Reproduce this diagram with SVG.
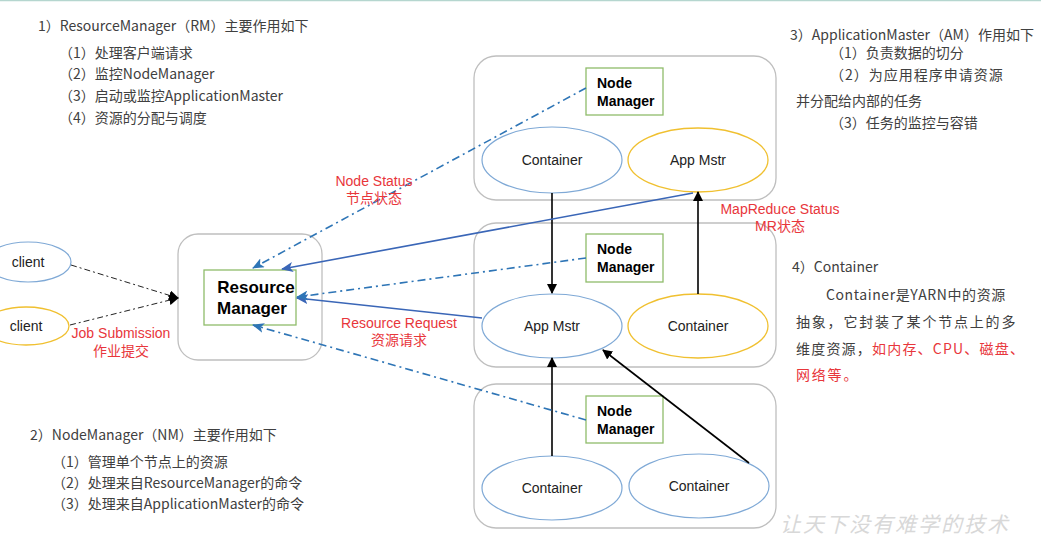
<svg xmlns="http://www.w3.org/2000/svg" width="1041" height="559" viewBox="0 0 1041 559">
<defs>
<style>
.txt{font-family:"Noto Sans CJK SC","Noto Sans",sans-serif;font-size:14px;fill:#404040}
.red{fill:#e8363b}
.lbl{font-family:"Liberation Sans","Noto Sans CJK SC",sans-serif;font-size:14px;fill:#e8363b}
.node{font-family:"Liberation Sans",Arial,sans-serif;font-size:14px;fill:#222}
.bold{font-family:"Liberation Sans",Arial,sans-serif;font-weight:bold;fill:#000}
.outer{fill:#fff;stroke:#bfbfbf;stroke-width:1.3}
.nm{fill:#fff;stroke:#8fbc6a;stroke-width:1.3}
.eb{fill:#fff;stroke:#7fa9d6;stroke-width:1.2}
.ey{fill:#fff;stroke:#f0c030;stroke-width:1.3}
.blk{stroke:#000;stroke-width:1.6;fill:none}
.bs{stroke:#3a66b7;stroke-width:1.6;fill:none}
.bd{stroke:#2e75b6;stroke-width:1.6;fill:none;stroke-dasharray:8 4 2 4}
.kd{stroke:#222;stroke-width:1;fill:none;stroke-dasharray:6 3 2 3}
</style>
<marker id="ak" markerWidth="10" markerHeight="10" refX="9" refY="5" orient="auto" markerUnits="userSpaceOnUse"><path d="M0,0 L10,5 L0,10 z" fill="#000"/></marker>
<marker id="ab" markerWidth="12" markerHeight="10" refX="11" refY="5" orient="auto" markerUnits="userSpaceOnUse"><path d="M0,0 L12,5 L0,10 L3,5 z" fill="#3a66b7"/></marker>
<marker id="ad" markerWidth="12" markerHeight="10" refX="11" refY="5" orient="auto" markerUnits="userSpaceOnUse"><path d="M0,0 L12,5 L0,10 L3,5 z" fill="#2e75b6"/></marker>
</defs>
<rect width="1041" height="559" fill="#fff"/>
<line x1="0" y1="0.5" x2="1041" y2="0.5" stroke="#b5d6cf" stroke-width="1.5"/>

<g id="text-rm">
<text class="txt" x="38" y="31">1）ResourceManager（RM）主要作用如下</text>
<text class="txt" x="59" y="58">（1）处理客户端请求</text>
<text class="txt" x="59" y="79">（2）监控NodeManager</text>
<text class="txt" x="59" y="101">（3）启动或监控ApplicationMaster</text>
<text class="txt" x="59" y="123">（4）资源的分配与调度</text>
</g>
<g id="text-am">
<text class="txt" x="790" y="40">3）ApplicationMaster（AM）作用如下</text>
<text class="txt" x="830" y="58">（1）负责数据的切分</text>
<text class="txt" x="830" y="80" style="letter-spacing:1px">（2）为应用程序申请资源</text>
<text class="txt" x="796" y="106">并分配给内部的任务</text>
<text class="txt" x="830" y="128">（3）任务的监控与容错</text>
</g>
<g id="text-container">
<text class="txt" x="792" y="272">4）Container</text>
<text class="txt" x="826" y="300" style="letter-spacing:0.6px">Container是YARN中的资源</text>
<text class="txt" x="796" y="327" style="letter-spacing:1.8px">抽象，它封装了某个节点上的多</text>
<text class="txt" x="796" y="354" style="letter-spacing:1.2px">维度资源，<tspan class="red">如内存、CPU、磁盘、</tspan></text>
<text class="txt red" x="796" y="380" style="letter-spacing:1.8px">网络等。</text>
</g>
<g id="text-nm">
<text class="txt" x="30" y="440">2）NodeManager（NM）主要作用如下</text>
<text class="txt" x="52" y="467">（1）管理单个节点上的资源</text>
<text class="txt" x="52" y="488">（2）处理来自ResourceManager的命令</text>
<text class="txt" x="52" y="509">（3）处理来自ApplicationMaster的命令</text>
</g>
<g id="watermark">
<text x="780" y="532" style="font-family:'Noto Sans CJK SC',sans-serif;font-size:21px;fill:#d8d8d8;font-style:italic;letter-spacing:2px">让天下没有难学的技术</text>
</g>

<g id="client1"><ellipse class="eb" cx="28" cy="262" rx="43" ry="20"/><text class="node" x="28" y="267" text-anchor="middle">client</text></g>
<g id="client2"><ellipse class="ey" cx="26" cy="326" rx="43" ry="19"/><text class="node" x="26" y="331" text-anchor="middle">client</text></g>

<g id="resource-manager">
<rect class="outer" x="178" y="234" width="144" height="126" rx="20"/>
<rect class="nm" x="204" y="270" width="92" height="55"/>
<text class="bold" x="256" y="293" font-size="17" text-anchor="middle">Resource</text>
<text class="bold" x="252" y="314" font-size="17" text-anchor="middle">Manager</text>
</g>

<g id="node1">
<rect class="outer" x="474" y="56" width="302" height="144" rx="22"/>
<rect class="nm" x="586" y="68" width="77" height="47"/>
<text class="bold" x="597" y="88" font-size="14">Node</text>
<text class="bold" x="597" y="106" font-size="14">Manager</text>
<ellipse class="eb" cx="552" cy="160" rx="70" ry="33"/>
<text class="node" x="552" y="165" text-anchor="middle">Container</text>
<ellipse class="ey" cx="698" cy="160" rx="70" ry="32"/>
<text class="node" x="698" y="165" text-anchor="middle">App Mstr</text>
</g>

<g id="node2">
<rect class="outer" x="474" y="223" width="302" height="144" rx="22"/>
<rect class="nm" x="586" y="234" width="77" height="48"/>
<text class="bold" x="597" y="254" font-size="14">Node</text>
<text class="bold" x="597" y="272" font-size="14">Manager</text>
<ellipse class="eb" cx="552" cy="326" rx="70" ry="32"/>
<text class="node" x="552" y="331" text-anchor="middle">App Mstr</text>
<ellipse class="ey" cx="698" cy="326" rx="70" ry="32"/>
<text class="node" x="698" y="331" text-anchor="middle">Container</text>
</g>

<g id="node3">
<rect class="outer" x="474" y="384" width="302" height="144" rx="22"/>
<rect class="nm" x="586" y="396" width="77" height="47"/>
<text class="bold" x="597" y="416" font-size="14">Node</text>
<text class="bold" x="597" y="434" font-size="14">Manager</text>
<ellipse class="eb" cx="552" cy="488" rx="70" ry="32"/>
<text class="node" x="552" y="493" text-anchor="middle">Container</text>
<ellipse class="eb" cx="699" cy="486" rx="70" ry="32"/>
<text class="node" x="699" y="491" text-anchor="middle">Container</text>
</g>

<g id="connectors">
<line class="kd" x1="71" y1="265" x2="178" y2="298" marker-end="url(#ak)"/>
<line class="kd" x1="70" y1="325" x2="178" y2="298" marker-end="url(#ak)"/>
<line class="blk" x1="552" y1="193" x2="552" y2="293" marker-end="url(#ak)"/>
<line class="blk" x1="698" y1="294" x2="698" y2="192" marker-end="url(#ak)"/>
<line class="blk" x1="552" y1="456" x2="552" y2="358" marker-end="url(#ak)"/>
<line class="blk" x1="749" y1="463" x2="603" y2="350" marker-end="url(#ak)"/>
<line class="bs" x1="693" y1="193" x2="282" y2="269" marker-end="url(#ab)"/>
<line class="bs" x1="482" y1="318" x2="297" y2="298" marker-end="url(#ab)"/>
<line class="bd" x1="586" y1="88" x2="253" y2="268" marker-end="url(#ad)"/>
<line class="bd" x1="586" y1="258" x2="297" y2="297" marker-end="url(#ad)"/>
<line class="bd" x1="586" y1="420" x2="253" y2="325" marker-end="url(#ad)"/>
</g>

<g id="labels">
<text class="lbl" x="374" y="186" text-anchor="middle">Node Status</text>
<text class="lbl" x="374" y="203" text-anchor="middle">节点状态</text>
<text class="lbl" x="399" y="328" text-anchor="middle">Resource Request</text>
<text class="lbl" x="399" y="345" text-anchor="middle">资源请求</text>
<text class="lbl" x="780" y="214" text-anchor="middle">MapReduce Status</text>
<text class="lbl" x="780" y="231" text-anchor="middle">MR状态</text>
<text class="lbl" x="121" y="338" text-anchor="middle">Job Submission</text>
<text class="lbl" x="121" y="356" text-anchor="middle">作业提交</text>
</g>
</svg>
